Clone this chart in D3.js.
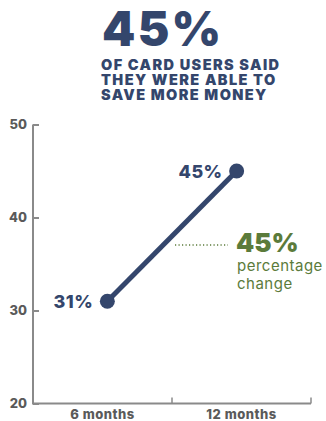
<!DOCTYPE html>
<html>
<head>
<meta charset="utf-8">
<script src="https://cdn.jsdelivr.net/npm/d3@7"></script>
<style>
  html, body { margin: 0; padding: 0; background: #fff; }
  svg { display: block; }
</style>
</head>
<body>
<div id="chart"></div>
<script>
// Survey result: share of card users able to save more money
const categories = ["6 months", "12 months"];
const values = [31, 45];
const yTicks = [20, 30, 40, 50];
const headline = "45%";
const subtitleLines = ["OF CARD USERS SAID", "THEY WERE ABLE TO", "SAVE MORE MONEY"];
const changeValue = "45%";
const changeLines = ["percentage", "change"];

const W = 326, H = 421;
const margin = { top: 124.5, right: 15, bottom: 17.5, left: 33 };
const navy = "#34466c";
const green = "#5b7b3b";
const axisGray = "#8a8a8a";
const labelGray = "#5a5a5a";
const heavy = "Inter, 'Open Sans', 'DejaVu Sans', sans-serif";

const svg = d3.select("#chart").append("svg")
  .attr("width", W).attr("height", H);

const x = d3.scaleBand().domain(categories)
  .range([margin.left, W - margin.right]);
const xp = d3.scalePoint().domain(categories)
  .range([margin.left, W - margin.right]).padding(0.575);
const y = d3.scaleLinear().domain([20, 50])
  .range([H - margin.bottom, margin.top]);

// Headline
svg.append("text")
  .attr("x", 102).attr("y", 46)
  .attr("font-family", heavy).attr("font-weight", 900)
  .attr("font-size", 47.5).attr("fill", navy)
  .attr("letter-spacing", 2.3)
  .text(headline);

// Subtitle as one multi-line text block
svg.append("text")
  .attr("font-family", heavy).attr("font-weight", 900)
  .attr("font-size", 14.5).attr("fill", navy)
  .attr("letter-spacing", 1.4)
  .selectAll("tspan").data(subtitleLines).join("tspan")
  .attr("x", 101).attr("y", (d, i) => 70 + i * 15)
  .text(d => d);

// Y axis with inward ticks
const yAxis = svg.append("g")
  .attr("transform", `translate(${margin.left},0)`)
  .call(d3.axisLeft(y).tickValues(yTicks).tickSize(-6).tickPadding(6));
yAxis.select(".domain").attr("stroke", axisGray).attr("stroke-width", 2)
  .attr("d", `M0,${y(20)}V${y(50)}`);
yAxis.selectAll(".tick line").attr("stroke", axisGray).attr("stroke-width", 2);
yAxis.selectAll(".tick text")
  .attr("font-family", heavy).attr("font-weight", 800)
  .attr("font-size", 13).attr("fill", labelGray);

// X axis: baseline, band-edge ticks, centered labels
const xg = svg.append("g").attr("transform", `translate(0,${y(20)})`);
xg.append("line")
  .attr("x1", margin.left - 1).attr("x2", W - margin.right)
  .attr("stroke", axisGray).attr("stroke-width", 2);
xg.selectAll(".edge").data(categories).join("line")
  .attr("class", "edge")
  .attr("x1", d => x(d) + x.bandwidth()).attr("x2", d => x(d) + x.bandwidth())
  .attr("y1", 0).attr("y2", -6)
  .attr("stroke", axisGray).attr("stroke-width", 1.5);
xg.selectAll(".lbl").data(categories).join("text")
  .attr("class", "lbl")
  .attr("x", d => x(d) + x.bandwidth() / 2).attr("y", 15)
  .attr("text-anchor", "middle")
  .attr("font-family", heavy).attr("font-weight", 800)
  .attr("font-size", 13).attr("fill", labelGray)
  .attr("letter-spacing", 0.5)
  .text(d => d);

// Trend line and points
const pts = categories.map((c, i) => ({ c, v: values[i] }));
svg.append("path").datum(pts)
  .attr("d", d3.line().x(d => xp(d.c)).y(d => y(d.v)))
  .attr("fill", "none").attr("stroke", navy).attr("stroke-width", 5);
svg.selectAll(".pt").data(pts).join("circle")
  .attr("class", "pt")
  .attr("cx", d => xp(d.c)).attr("cy", d => y(d.v)).attr("r", 7.5)
  .attr("fill", navy);
svg.selectAll(".vl").data(pts).join("text")
  .attr("class", "vl")
  .attr("x", d => xp(d.c) - 14).attr("y", d => y(d.v) + 6.5)
  .attr("text-anchor", "end")
  .attr("font-family", heavy).attr("font-weight", 800)
  .attr("font-size", 18).attr("fill", navy)
  .attr("letter-spacing", 0.5)
  .text(d => d.v + "%");

// Percentage change annotation
const midY = 245;
svg.append("line")
  .attr("x1", 175).attr("x2", 228).attr("y1", midY).attr("y2", midY)
  .attr("stroke", green).attr("stroke-width", 1.3)
  .attr("stroke-dasharray", "1.2,2.3");
svg.append("text")
  .attr("x", 236).attr("y", 252)
  .attr("font-family", heavy).attr("font-weight", 900)
  .attr("font-size", 26).attr("fill", green)
  .text(changeValue);
svg.append("text")
  .attr("font-family", heavy).attr("font-weight", 400)
  .attr("font-size", 15).attr("fill", green)
  .attr("letter-spacing", 0.5)
  .selectAll("tspan").data(changeLines).join("tspan")
  .attr("x", 237).attr("y", (d, i) => 271 + i * 18)
  .text(d => d);
</script>
</body>
</html>
